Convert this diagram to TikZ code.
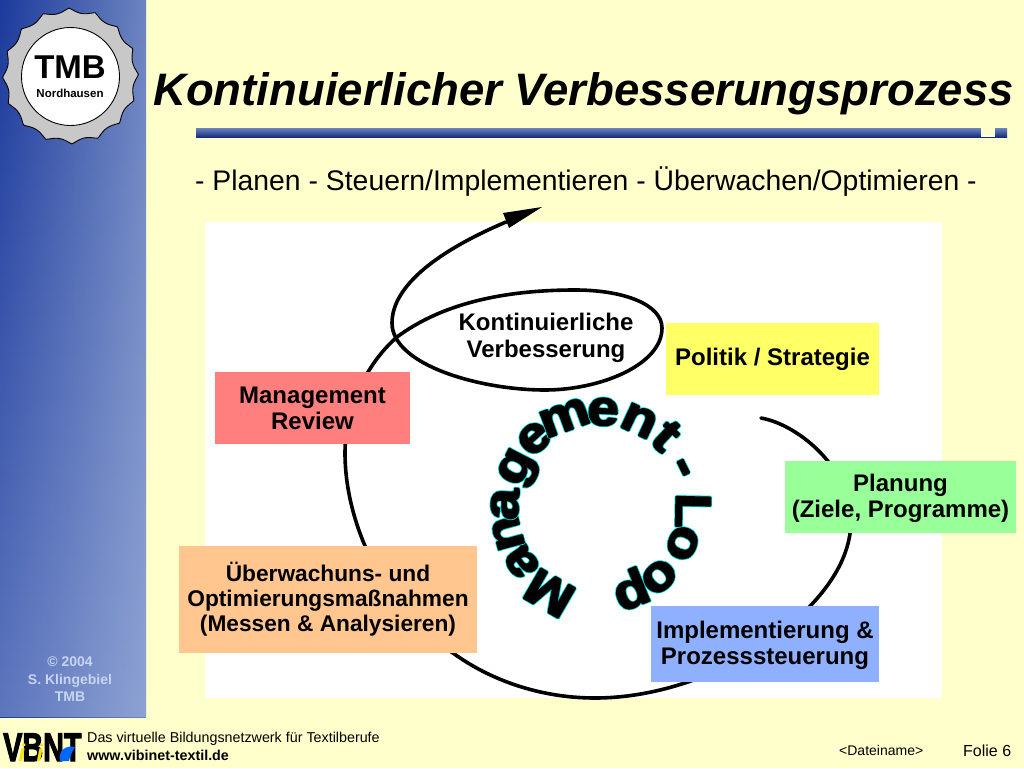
\documentclass[tikz,border=0pt]{standalone}
\usepackage{fontspec}
\setmainfont{Liberation Sans}
\usetikzlibrary{calc,fadings}
\definecolor{pagebg}{HTML}{FFFFCC}
\definecolor{deepblue}{HTML}{1C3A9C}
\definecolor{midblue}{HTML}{6C84C0}
\definecolor{paleblue}{HTML}{C0D0F0}
\definecolor{credit}{HTML}{C8D4F0}
\definecolor{gearfill}{HTML}{C8C8C8}
\definecolor{boxyellow}{HTML}{FFFF66}
\definecolor{boxred}{HTML}{FF7F7F}
\definecolor{boxgreen}{HTML}{99FF99}
\definecolor{boxorange}{HTML}{FFC78F}
\definecolor{boxblue}{HTML}{8FB0FF}
\newcommand{\fs}[1]{\fontsize{#1}{#1}\selectfont}
\newcommand{\fsl}[2]{\fontsize{#1}{#2}\selectfont}
\newcommand{\loopletter}[1]{\scalebox{1.13}[1]{\rlap{\special{pdf:code 2 Tr 1 j 3.2 w 0 0.85 0.85 RG}#1}\special{pdf:code 2 Tr 1 j 1.7 w 0 0 0 RG}#1\special{pdf:code 0 Tr}}}
\newcommand{\heavy}[1]{\special{pdf:code 2 Tr 1.2 w 0 0 0 RG}#1\special{pdf:code 0 Tr}}
\tikzset{
  colorbox/.style={minimum width=#1, inner sep=0pt, align=center, font=\fsl{24}{26}\bfseries, text=black},
  foot/.style={inner sep=0pt, anchor=base west, text=black},
  creditline/.style={inner sep=0pt, anchor=base, font=\fs{14}\bfseries, text=credit},
  loopline/.style={line width=3.6pt, line join=round, line cap=round},
}
\begin{document}
\begin{tikzpicture}[x=1pt,y=-1pt]
\useasboundingbox (0,0) rectangle (1024,768);
\fill[pagebg] (0,0) rectangle (1024,768);
% side panel
\shade[left color=deepblue,right color=midblue] (0,0) rectangle (146,717);
\fill[paleblue,path fading=north,fill opacity=0.4] (0,0) rectangle (146,717);
% badge
\fill[gearfill,draw=black,line width=0.9pt] plot[domain=0:360,samples=321] ({70.5+(68-4.5*abs(sin(8*\x+10)))*cos(\x)},{76+(68-4.5*abs(sin(8*\x+10)))*sin(\x)}) -- cycle;
\node[circle,draw=black,fill=white,line width=0.9pt,minimum size=98pt,inner sep=0pt] (badge) at (70.5,76.5) {};
\node[inner sep=0pt,font=\fs{33}\bfseries] (tmb) at (70,67) {TMB};
\node[inner sep=0pt,font=\fs{11.5}\bfseries] (nord) at (70,93) {Nordhausen};
% credits
\node[creditline] (c1) at (70,666) {© 2004};
\node[creditline] (c2) at (70,684) {S. Klingebiel};
\node[creditline] (c3) at (70,701) {TMB};
% title
\node[inner sep=0pt,anchor=base west,font=\fs{45.5}\bfseries\itshape] (title) at (153,105) {Kontinuierlicher Verbesserungsprozess};
% rule
\shade[top color=midblue,bottom color=deepblue!80!black] (196,128) rectangle (1007,137);
\fill[pagebg] (981,128) rectangle (995,135);
\fill[white] (981,135) rectangle (995,137);
% subtitle
\node[inner sep=0pt,anchor=base west,font=\fs{28.35}] (sub) at (195,190) {- Planen - Steuern/Implementieren - Überwachen/Optimieren -};
% white field
\fill[white] (205,222) rectangle (942,698);
% loop
\draw[loopline] (761,418) .. controls (800,425) and (851,470) .. (851,520)
  .. controls (851,560) and (825,595) .. (790,625)
  .. controls (740,668) and (665,698) .. (595,698)
  .. controls (540,698) and (490,680) .. (453,653)
  .. controls (385,610) and (345,525) .. (345,453)
  .. controls (345,410) and (365,365) .. (397,337)
  .. controls (440,305) and (500,290) .. (575,290)
  .. controls (625,290) and (662,305) .. (662,328)
  .. controls (662,365) and (600,390) .. (545,390)
  .. controls (480,390) and (392,365) .. (392,323)
  .. controls (392,285) and (440,250) .. (506,222);
\fill[black] (542,207) -- (503,213) -- (509,228) -- cycle;
% boxes
\node[colorbox=213pt,minimum height=72pt,fill=boxyellow] (politik) at (772.5,359) {\rule{0pt}{19pt}Politik / Strategie};
\node[colorbox=195pt,minimum height=72pt,fill=boxred] (review) at (312.5,408) {Management\ \\ Review};
\node[colorbox=231pt,minimum height=72pt,fill=boxgreen] (planung) at (900.5,497) {\rule{0pt}{20pt}Planung\\(Ziele, Programme)};
\node[colorbox=298pt,minimum height=107pt,fill=boxorange,font=\fsl{22.7}{25}\bfseries] (ueber) at (328,599.5) {Überwachuns- und\\Optimierungsmaßnahmen\ \\(Messen \& Analysieren)};
\node[colorbox=228pt,minimum height=76pt,fill=boxblue] (impl) at (765,644) {\rule{0pt}{21pt}Implementierung \&\\Prozesssteuerung};
\node[inner sep=0pt,align=center,font=\fsl{24}{27}\bfseries] (kvp) at (546,338) {Kontinuierliche\\Verbesserung};
% circular text
\coordinate (C) at (598,509);
\foreach \ch/\a/\r [count=\i] in {M/240/80,a/214.5/80,n/195/80,a/177/80,g/153/80,e/132/82,m/110/84,e/87/84,n/65/84,t/47/84,-/26/82,L/-1/78,o/-22/78,o/-48/78,p/-68/78}{
  \node[inner sep=0pt,anchor=base,rotate=\a-90,font=\fs{50}\bfseries] (ring\i) at ($(C)+(\a:\r pt)$) {\loopletter{\ch}};
}
% footer
\node[inner sep=0pt,anchor=base west,font=\fs{40}\bfseries] (logo) at (3,761) {\scalebox{0.72}[1]{\heavy{VBNT}}};
\node[inner sep=0pt,anchor=base,font=\fs{24}\bfseries\itshape,text=yellow!85!orange] (logoi) at (22,761) {i};
\node[inner sep=0pt,anchor=base,font=\fs{24}\bfseries\itshape,text=yellow!85!orange] (logoj) at (40,761) {i};
\fill[blue!60!cyan] (60,761) .. controls (58,750) and (66,745) .. (75,747) .. controls (72,752) and (70,756) .. (69,761) -- cycle;
\node[foot,font=\fs{14.3}] (f1) at (87,742) {Das virtuelle Bildungsnetzwerk für Textilberufe};
\node[foot,font=\fs{14.3}\bfseries] (f2) at (87,760) {www.vibinet-textil.de};
\node[foot,font=\fs{14}] (f3) at (839,755) {<Dateiname>};
\node[foot,font=\fs{16}] (f4) at (963,756) {Folie 6};
\end{tikzpicture}
\end{document}
